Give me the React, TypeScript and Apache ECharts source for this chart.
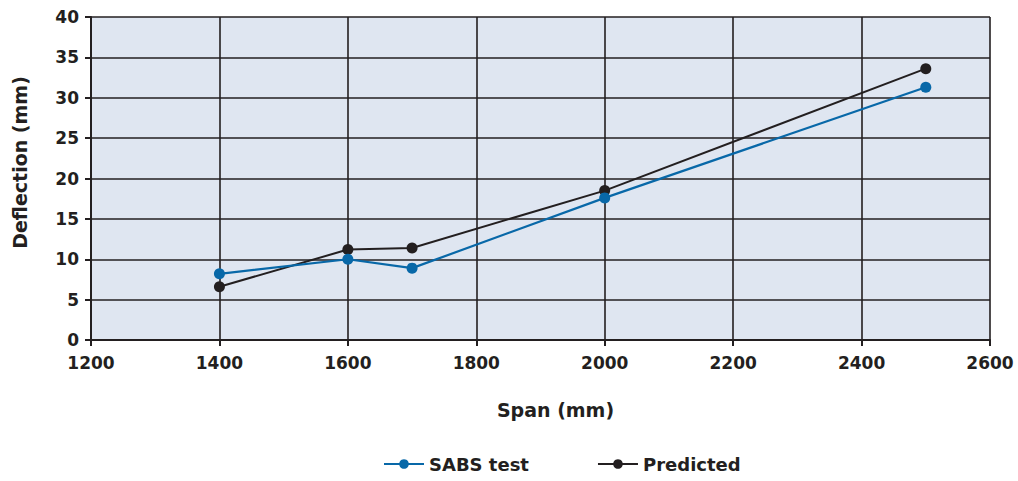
import React, { useEffect, useRef } from "react";
import * as echarts from "echarts";

const spans = [1400, 1600, 1700, 2000, 2500];
const sabsTest = [8.2, 10.0, 8.9, 17.6, 31.3];
const predicted = [6.6, 11.2, 11.4, 18.5, 33.6];
const seriesNames = ["SABS test", "Predicted"];

const FONT = "'DejaVu Sans', sans-serif";
const INK = "#231f20";
const BLUE = "#0868a8";

export default function App() {
  const ref = useRef<HTMLDivElement>(null);
  useEffect(() => {
    if (!ref.current) return;
    const chart = echarts.init(ref.current, null, { renderer: "svg" });
    const mk = (vals: number[]) => spans.map((s, i) => [s, vals[i]]);
    chart.setOption({
      animation: false,
      textStyle: { fontFamily: FONT },
      grid: { left: 91, top: 17, right: 28, bottom: 141, show: true, backgroundColor: "#dfe6f1", borderWidth: 0 },
      legend: {
        bottom: 3,
        left: 378,
        itemWidth: 40,
        itemHeight: 12,
        itemGap: 68,
        textStyle: { fontFamily: FONT, fontSize: 18, fontWeight: "bold", color: INK },
        data: seriesNames,
      },
      xAxis: {
        type: "value",
        min: 1200,
        max: 2600,
        interval: 200,
        name: "Span (mm)",
        nameLocation: "middle",
        nameGap: 60,
        nameTextStyle: { fontFamily: FONT, fontSize: 19, fontWeight: "bold", color: INK, padding: [0, 0, 0, 30] },
        axisLine: { show: true, lineStyle: { color: INK, width: 2 } },
        axisTick: { show: true, length: 6, lineStyle: { color: INK, width: 2 } },
        axisLabel: { margin: 14, fontFamily: FONT, fontSize: 17, fontWeight: "bold", color: INK, formatter: (v: number) => String(v) },
        splitLine: { show: true, lineStyle: { color: INK, width: 1.6 } },
      },
      yAxis: {
        type: "value",
        min: 0,
        max: 40,
        interval: 5,
        name: "Deflection (mm)",
        nameLocation: "middle",
        nameGap: 62,
        nameRotate: 90,
        nameTextStyle: { fontFamily: FONT, fontSize: 19, fontWeight: "bold", color: INK, padding: [0, 0, 0, 32] },
        axisLine: { show: true, lineStyle: { color: INK, width: 2 } },
        axisTick: { show: true, length: 6, lineStyle: { color: INK, width: 2 } },
        axisLabel: { margin: 12, fontFamily: FONT, fontSize: 17, fontWeight: "bold", color: INK },
        splitLine: { show: true, lineStyle: { color: INK, width: 1.6 } },
      },
      series: [
        {
          name: seriesNames[0],
          type: "line",
          data: mk(sabsTest),
          symbol: "circle",
          symbolSize: 11,
          itemStyle: { color: BLUE },
          lineStyle: { color: BLUE, width: 2.2 },
          z: 3,
        },
        {
          name: seriesNames[1],
          type: "line",
          data: mk(predicted),
          symbol: "circle",
          symbolSize: 11,
          itemStyle: { color: INK },
          lineStyle: { color: INK, width: 2 },
          z: 2,
        },
      ],
    });
    return () => chart.dispose();
  }, []);
  return <div ref={ref} style={{ position: "fixed", left: 0, top: 0, width: 1018, height: 481, background: "#fff" }} />;
}
